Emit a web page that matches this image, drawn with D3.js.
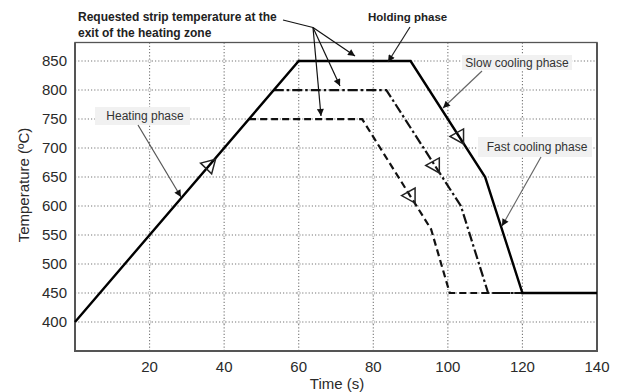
<!DOCTYPE html>
<html>
<head>
<meta charset="utf-8">
<script src="https://cdn.jsdelivr.net/npm/d3@7/dist/d3.min.js"></script>
<style>
  html, body { margin: 0; padding: 0; background: #fff; }
  svg { display: block; font-family: "Liberation Sans", Arial, sans-serif; }
</style>
</head>
<body>
<svg id="chart" width="618" height="392"></svg>
<script>
// ---- data ----
const xTicks = [20, 40, 60, 80, 100, 120, 140];
const yTicks = [400, 450, 500, 550, 600, 650, 700, 750, 800, 850];
const xTitle = "Time (s)";
const yTitle = "Temperature (ºC)";

// solid profile: requested 850 ºC
const solidTime = [0, 60, 90, 110, 120, 140];
const solidTemp = [400, 850, 850, 650, 450, 450];
// dash-dot profile: requested 800 ºC
const dashDotTime = [53.3, 83.5, 103.5, 110.8, 120];
const dashDotTemp = [800, 800, 600, 450, 450];
// dashed profile: requested 750 ºC
const dashedTime = [46.7, 77, 95.5, 100.5, 120];
const dashedTemp = [750, 750, 560, 450, 450];

// direction markers (open triangles) on the curves
const markerTime = [36, 103, 96.5, 90];
const markerTemp = [670, 720, 670, 618];
const markerRot = [15, 0, 0, 0];

// ---- layout ----
const svg = d3.select("#chart");
const x = d3.scaleLinear().domain([0, 140]).range([75, 597]);
const y = d3.scaleLinear().domain([350, 882]).range([351, 42.5]);
const textCol = "#2a2a2a";

const zip = (a, b) => a.map((v, i) => [v, b[i]]);
const line = d3.line().x(d => x(d[0])).y(d => y(d[1]));

// defs: arrowhead
const defs = svg.append("defs");
defs.append("marker")
  .attr("id", "ah").attr("markerUnits", "userSpaceOnUse")
  .attr("viewBox", "0 0 10 10").attr("refX", 10).attr("refY", 5)
  .attr("markerWidth", 10).attr("markerHeight", 7).attr("orient", "auto")
  .append("path").attr("d", "M0,0 L10,5 L0,10 Z").attr("fill", "#111");

// grid
const grid = svg.append("g");
grid.selectAll("line.v").data(xTicks.filter(t => t < 140)).join("line")
  .attr("x1", d => x(d)).attr("x2", d => x(d))
  .attr("y1", y.range()[1]).attr("y2", y.range()[0])
  .attr("stroke", "#777").attr("stroke-width", 1.1).attr("stroke-dasharray", "1.2,2");
grid.selectAll("line.h").data(yTicks).join("line")
  .attr("x1", x(0)).attr("x2", x(140))
  .attr("y1", d => y(d)).attr("y2", d => y(d))
  .attr("stroke", "#777").attr("stroke-width", 1.1).attr("stroke-dasharray", "1.2,2");
// small circles at grid intersections
const inter = [];
xTicks.filter(t => t < 140).forEach(a => yTicks.forEach(b => inter.push([a, b])));
grid.selectAll("circle").data(inter).join("circle")
  .attr("cx", d => x(d[0])).attr("cy", d => y(d[1])).attr("r", 1.5)
  .attr("fill", "#fff").attr("stroke", "#aaa").attr("stroke-width", 0.7);

// label boxes (light grey)
const boxes = [
  {x0: 95, y0: 107, x1: 190, y1: 125},
  {x0: 462, y0: 55, x1: 572, y1: 70},
  {x0: 478, y0: 137, x1: 592, y1: 157}
];
svg.append("g").selectAll("rect").data(boxes).join("rect")
  .attr("x", d => d.x0).attr("y", d => d.y0)
  .attr("width", d => d.x1 - d.x0).attr("height", d => d.y1 - d.y0)
  .attr("fill", "#f1f1f1");

// frame
svg.append("rect")
  .attr("x", x(0)).attr("y", y.range()[1])
  .attr("width", x(140) - x(0)).attr("height", y.range()[0] - y.range()[1])
  .attr("fill", "none").attr("stroke", "#555").attr("stroke-width", 1.3);
svg.append("path")
  .attr("d", `M${x(0)},${y.range()[1]} V${y.range()[0]} H${x(140)} V${y.range()[1]}`)
  .attr("fill", "none").attr("stroke", "#555").attr("stroke-width", 2);

// curves
svg.append("path").attr("d", line(zip(dashedTime, dashedTemp)))
  .attr("fill", "none").attr("stroke", "#111").attr("stroke-width", 2.2)
  .attr("stroke-dasharray", "7,4");
svg.append("path").attr("d", line(zip(dashDotTime, dashDotTemp)))
  .attr("fill", "none").attr("stroke", "#111").attr("stroke-width", 2.2)
  .attr("stroke-dasharray", "10,3,2.5,3");
svg.append("path").attr("d", line(zip(solidTime, solidTemp)))
  .attr("fill", "none").attr("stroke", "#000").attr("stroke-width", 2.4)
  .attr("stroke-linejoin", "miter");

// direction triangles
svg.append("g").selectAll("path").data(markerTime.map((t, i) => [t, markerTemp[i], markerRot[i]])).join("path")
  .attr("transform", d => `translate(${x(d[0])},${y(d[1])}) rotate(${d[2]})`)
  .attr("d", "M-9,0 L4.5,-7.5 L4.5,7.5 Z")
  .attr("fill", "none").attr("stroke", "#222").attr("stroke-width", 1.5);

// axes tick labels
svg.append("g").selectAll("text").data(yTicks).join("text")
  .attr("x", 67).attr("y", d => y(d)).attr("dy", "0.36em")
  .attr("text-anchor", "end").attr("font-size", 15).attr("fill", textCol)
  .text(d => d);
svg.append("g").selectAll("text").data(xTicks).join("text")
  .attr("x", d => x(d)).attr("y", 372)
  .attr("text-anchor", "middle").attr("font-size", 15).attr("fill", textCol)
  .text(d => d);
svg.append("text").attr("x", 337).attr("y", 389)
  .attr("text-anchor", "middle").attr("font-size", 15).attr("fill", textCol).text(xTitle);
svg.append("text").attr("transform", "translate(29,185) rotate(-90)")
  .attr("text-anchor", "middle").attr("font-size", 15).attr("fill", textCol).text(yTitle);

// annotation leaders
const ann = svg.append("g").attr("fill", "none");
ann.append("path").attr("d", "M283,20 L313,27.5").attr("stroke", "#111").attr("stroke-width", 1.2);
[[355, 56], [340, 86], [321, 116]].forEach(p => {
  ann.append("line").attr("x1", 313).attr("y1", 27.5).attr("x2", p[0]).attr("y2", p[1])
    .attr("stroke", "#111").attr("stroke-width", 1.2).attr("marker-end", "url(#ah)");
});
const leaders = [
  {x1: 410, y1: 27, x2: 388, y2: 62, c: "#222"},
  {x1: 482, y1: 71, x2: 443, y2: 108, c: "#666"},
  {x1: 541, y1: 157, x2: 502, y2: 226, c: "#666"},
  {x1: 138, y1: 125, x2: 181, y2: 197, c: "#555"}
];
leaders.forEach(l => {
  ann.append("line").attr("x1", l.x1).attr("y1", l.y1).attr("x2", l.x2).attr("y2", l.y2)
    .attr("stroke", l.c).attr("stroke-width", 1.2).attr("marker-end", "url(#ah)");
});

// annotation texts
const t = svg.append("g").attr("fill", "#222");
t.append("text").attr("x", 78).attr("y", 21).attr("font-size", 12).attr("font-weight", "bold")
  .text("Requested strip temperature at the");
t.append("text").attr("x", 78).attr("y", 37).attr("font-size", 12).attr("font-weight", "bold")
  .text("exit of the heating zone");
t.append("text").attr("x", 368).attr("y", 21).attr("font-size", 11.5).attr("font-weight", "bold")
  .text("Holding phase");
t.append("text").attr("x", 517).attr("y", 67).attr("text-anchor", "middle").attr("font-size", 12)
  .attr("fill", "#333").text("Slow cooling phase");
t.append("text").attr("x", 537).attr("y", 151).attr("text-anchor", "middle").attr("font-size", 12)
  .attr("fill", "#333").text("Fast cooling phase");
t.append("text").attr("x", 145).attr("y", 120).attr("text-anchor", "middle").attr("font-size", 12)
  .attr("fill", "#333").text("Heating phase");
</script>
</body>
</html>
